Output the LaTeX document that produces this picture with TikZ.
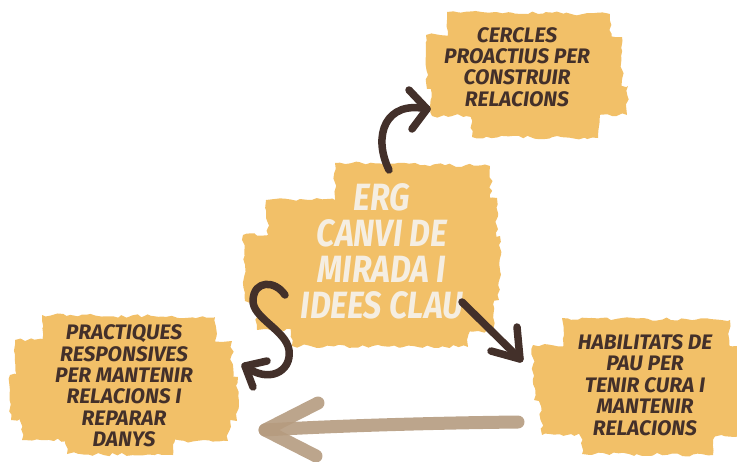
\documentclass[tikz,border=0pt]{standalone}
\usepackage{fontspec}
\newfontfamily\brush{Fira Sans}[FakeStretch=0.85]
\newfontfamily\brushwide{Fira Sans}
\usetikzlibrary{decorations.pathmorphing}
\definecolor{blobc}{HTML}{F2C068}
\definecolor{inkc}{HTML}{43302A}
\definecolor{creamc}{HTML}{F5EEE2}
\definecolor{fadec}{HTML}{B59B7F}
\tikzset{
  blob/.style={fill=blobc, decorate, decoration={random steps, segment length=5pt, amplitude=1.8pt}},
  darktext/.style={text=inkc, align=center, font=\brushwide\bfseries\itshape\fontsize{21}{21.4}\selectfont, inner sep=0pt},
  bigtext/.style={text=creamc, align=center, font=\brush\bfseries\itshape\fontsize{38}{36}\selectfont, inner sep=0pt},
  inkarrow/.style={draw=inkc, line width=7.5pt, line cap=round, line join=round},
  fadearrow/.style={draw=fadec, line width=13pt, line cap=round, line join=round, opacity=0.9}
}
\begin{document}
\begin{tikzpicture}[x=1pt,y=-1pt]
\pgfmathsetseed{7}
\useasboundingbox (0,0) rectangle (737,461);
% central blob
\fill[blob] (335,163) -- (490,166) -- (492,205) -- (335,205) -- cycle;
\fill[blob] (266,200) -- (497,198) -- (497,240) -- (268,242) -- cycle;
\fill[blob] (243,235) -- (500,236) -- (499,300) -- (245,301) -- cycle;
\fill[blob] (255,295) -- (495,294) -- (493,331) -- (257,330) -- cycle;
\fill[blob] (290,325) -- (470,326) -- (468,347) -- (292,346) -- cycle;
% top right blob
\fill[blob] (447,12) -- (610,14) -- (612,42) -- (447,40) -- cycle;
\fill[blob] (426,35) -- (622,37) -- (622,90) -- (427,89) -- cycle;
\fill[blob] (430,85) -- (628,86) -- (627,115) -- (432,116) -- cycle;
\fill[blob] (470,110) -- (600,111) -- (598,138) -- (472,137) -- cycle;
% bottom left blob
\fill[blob] (42,315) -- (215,317) -- (216,346) -- (43,345) -- cycle;
\fill[blob] (15,340) -- (232,341) -- (232,381) -- (16,380) -- cycle;
\fill[blob] (10,375) -- (238,377) -- (237,421) -- (11,420) -- cycle;
\fill[blob] (20,415) -- (230,416) -- (228,441) -- (22,440) -- cycle;
\fill[blob] (65,435) -- (175,436) -- (173,455) -- (67,454) -- cycle;
% bottom right blob
\fill[blob] (562,318) -- (730,320) -- (730,351) -- (563,350) -- cycle;
\fill[blob] (533,345) -- (740,346) -- (740,401) -- (534,400) -- cycle;
\fill[blob] (540,395) -- (740,396) -- (740,436) -- (542,435) -- cycle;
\fill[blob] (580,430) -- (715,431) -- (713,455) -- (582,454) -- cycle;
% texts
\node[bigtext] (erg) at (382,251) {ERG\\CANVI DE\\MIRADA I\\IDEES CLAU};
\node[darktext] (cercles) at (517,67) {CERCLES\\PROACTIUS PER\\CONSTRUIR\\RELACIONS};
\node[darktext] (practiques) at (124,386) {PRACTIQUES\\RESPONSIVES\\PER MANTENIR\\RELACIONS I\\REPARAR\\DANYS};
\node[darktext] (habilitats) at (645,385) {HABILITATS DE\\PAU PER\\TENIR CURA I\\MANTENIR\\RELACIONS};
% arrows coordinates
\coordinate (a1s) at (389,170);
\coordinate (a1t) at (427,109);
\coordinate (a1w1) at (409,90);
\coordinate (a1w2) at (412,129);
\coordinate (a2s) at (285,295);
\coordinate (a2t) at (245,366);
\coordinate (a2w1) at (267,361);
\coordinate (a2w2) at (253,387);
\coordinate (a3s) at (462,302);
\coordinate (a3t) at (520,359);
\coordinate (a3w1) at (491,351);
\coordinate (a3w2) at (517,327);
\coordinate (a4s) at (518,422);
\coordinate (a4t) at (265,430);
\coordinate (a4w1) at (318,403);
\coordinate (a4w2) at (316,456);
% faded arrow
\draw[fadearrow] (a4s) .. controls (430,423) and (330,426) .. (a4t);
\draw[fadearrow] (a4w1) -- (a4t) -- (a4w2);
% ink arrows
\draw[inkarrow] (a1s) .. controls (372,135) and (386,100) .. (a1t);
\draw[inkarrow] (a1w1) -- (a1t) -- (a1w2);
\draw[inkarrow] (a2s) .. controls (275,280) and (254,280) .. (253,300)
  .. controls (252,318) and (286,330) .. (289,350)
  .. controls (292,372) and (268,384) .. (a2t);
\draw[inkarrow] (a2w1) -- (a2t) -- (a2w2);
\draw[inkarrow] (a3s) -- (a3t);
\draw[inkarrow] (a3w1) -- (a3t) -- (a3w2);
\end{tikzpicture}
\end{document}
